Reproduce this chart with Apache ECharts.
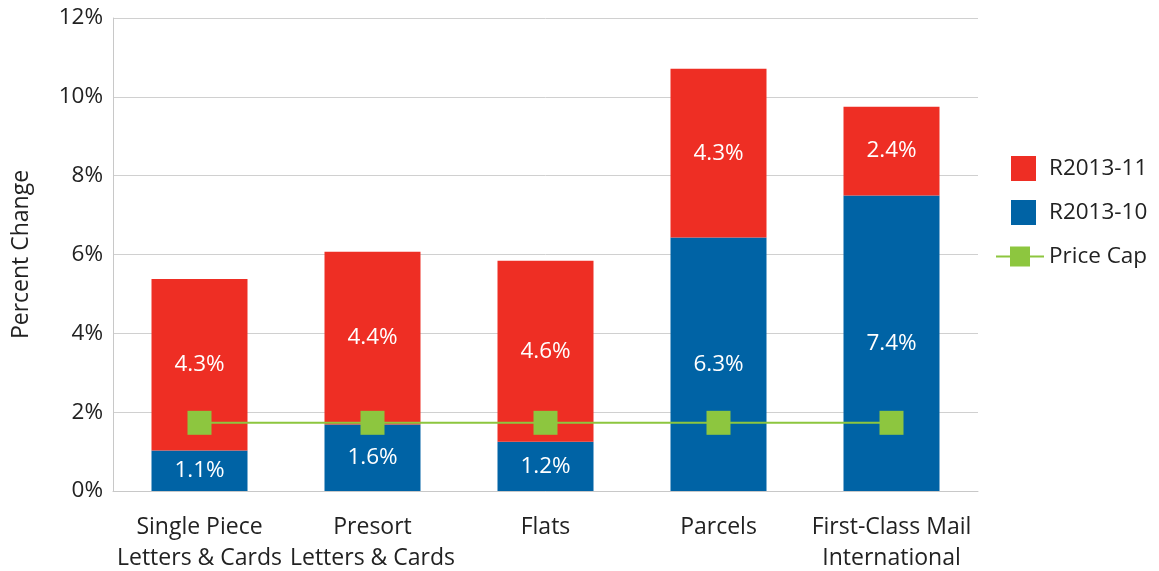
<!DOCTYPE html>
<html>
<head>
<meta charset="utf-8">
<script src="https://cdn.jsdelivr.net/npm/echarts@6/dist/echarts.min.js"></script>
<style>html,body{margin:0;padding:0;background:#fff}#c{width:1159px;height:571px}</style>
</head>
<body>
<div id="c"></div>
<script>
var categories = ['Single Piece\nLetters & Cards', 'Presort\nLetters & Cards', 'Flats', 'Parcels', 'First-Class Mail\nInternational'];
var r201310 = [1.03, 1.69, 1.25, 6.43, 7.50];
var r201311 = [4.35, 4.38, 4.59, 4.28, 2.25];
var r201310Labels = ['1.1%', '1.6%', '1.2%', '6.3%', '7.4%'];
var r201311Labels = ['4.3%', '4.4%', '4.6%', '4.3%', '2.4%'];
var priceCap = [1.73, 1.73, 1.73, 1.73, 1.73];
var yTicks = [0, 12, 2];

var FONT = 'Open Sans';
var chart = echarts.init(document.getElementById('c'));
chart.setOption({
  backgroundColor: '#fff',
  animation: false,
  textStyle: { fontFamily: FONT },
  grid: { left: 113, right: 181, top: 18, bottom: 80, containLabel: false, outerBoundsMode: 'none' },
  legend: [{
    data: ['R2013-11', 'R2013-10'],
    orient: 'vertical',
    left: 1006, top: 151,
    itemWidth: 25, itemHeight: 25, itemGap: 19,
    icon: 'rect',
    textStyle: { fontFamily: FONT, fontSize: 22.5, color: '#222', padding: [0, 0, 0, 8] }
  }, {
    data: ['Price Cap'],
    orient: 'vertical',
    left: 990, top: 240,
    itemWidth: 48, itemHeight: 25,
    textStyle: { fontFamily: FONT, fontSize: 22.5, color: '#222', padding: [0, 0, 0, 0] }
  }],
  xAxis: {
    type: 'category',
    data: categories,
    axisLine: { show: true, lineStyle: { color: '#c8c8c8', width: 1 } },
    axisTick: { show: false },
    axisLabel: { fontFamily: FONT, fontSize: 23, color: '#222', lineHeight: 31, margin: 21, interval: 0 }
  },
  yAxis: {
    type: 'value',
    min: yTicks[0], max: yTicks[1], interval: yTicks[2],
    name: 'Percent Change',
    nameLocation: 'middle',
    nameGap: 80,
    nameTextStyle: { fontFamily: FONT, fontSize: 23, color: '#222' },
    axisLine: { show: true, lineStyle: { color: '#c8c8c8', width: 1 } },
    axisTick: { show: false },
    axisLabel: { fontFamily: FONT, fontSize: 22.5, color: '#222', margin: 10, formatter: '{value}%' },
    splitLine: { show: true, lineStyle: { color: '#d0d0d0', width: 1 } }
  },
  series: [{
    name: 'R2013-10',
    type: 'bar',
    stack: 'total',
    barWidth: 96,
    data: r201310,
    itemStyle: { color: '#0063A5' },
    label: { show: true, position: 'inside', color: '#fff', fontFamily: FONT, fontSize: 22.5,
      formatter: function (p) { return r201310Labels[p.dataIndex]; } }
  }, {
    name: 'R2013-11',
    type: 'bar',
    stack: 'total',
    barWidth: 96,
    data: r201311,
    itemStyle: { color: '#EE2E24' },
    label: { show: true, position: 'inside', color: '#fff', fontFamily: FONT, fontSize: 22.5,
      formatter: function (p) { return r201311Labels[p.dataIndex]; } }
  }, {
    name: 'Price Cap',
    type: 'line',
    data: priceCap,
    symbol: 'rect',
    symbolSize: 24,
    itemStyle: { color: '#8DC63F' },
    lineStyle: { color: '#8DC63F', width: 2 },
    z: 5
  }]
});
</script>
</body>
</html>
